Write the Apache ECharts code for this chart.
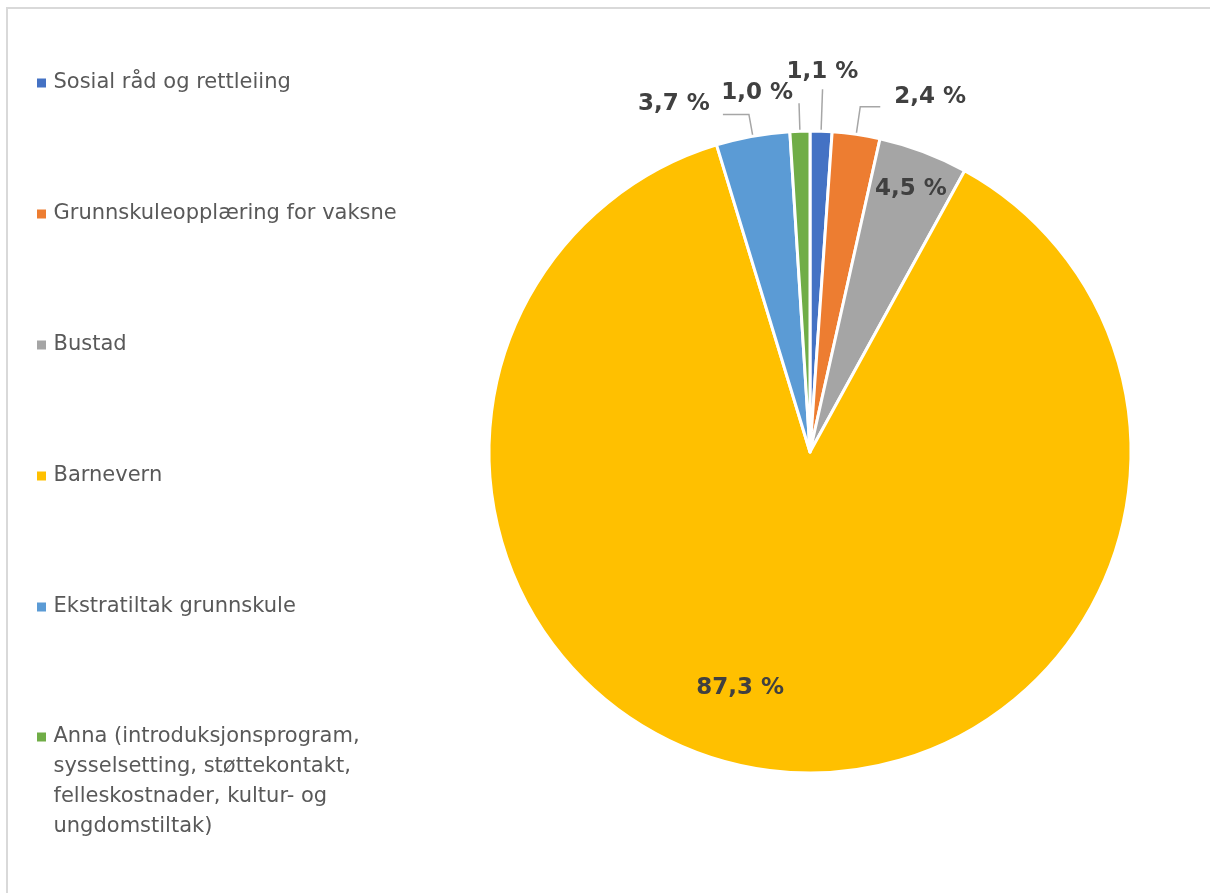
<!DOCTYPE html>
<html>
<head>
<meta charset="utf-8">
<script src="https://cdn.jsdelivr.net/npm/echarts@6/dist/echarts.min.js"></script>
<style>
html,body{margin:0;padding:0;background:#fff;overflow:hidden;}
#frame{position:absolute;left:6px;top:7px;width:1400px;height:1100px;border:2px solid #d9d9d9;box-sizing:border-box;}
#chart{position:absolute;left:0;top:0;width:1210px;height:893px;}
</style>
</head>
<body>
<div id="frame"></div>
<div id="chart"></div>
<script>
const categories = [
  'Sosial råd og rettleiing',
  'Grunnskuleopplæring for vaksne',
  'Bustad',
  'Barnevern',
  'Ekstratiltak grunnskule',
  'Anna (introduksjonsprogram, sysselsetting, støttekontakt, felleskostnader, kultur- og ungdomstiltak)'
];
const shares = [1.1, 2.4, 4.5, 87.3, 3.7, 1.0];
const colors = ['#4472C4', '#ED7D31', '#A5A5A5', '#FFC000', '#5B9BD5', '#70AD47'];
const insideLabel = [false, false, true, true, false, false];
const annaLegendText = 'Anna (introduksjonsprogram,\nsysselsetting, støttekontakt,\nfelleskostnader, kultur- og\nungdomstiltak)';

const FONT = 'DejaVu Sans';
const lineLen = { 0: [42, 0], 1: [28, 20], 4: [22, 26], 5: [28, 0] };
const labelOffsets = {
  0: [-41, -17],
  1: [9, -10],
  2: [43, -110],
  3: [-53, 73],
  4: [-8, -10],
  5: [-1, -10]
};

const chart = echarts.init(document.getElementById('chart'));
const legendText = { color: '#595959', fontSize: 21, fontFamily: FONT, lineHeight: 30 };
const legendCommon = {
  orient: 'vertical', left: 37, padding: 0,
  icon: 'path://M0,0H9V9H0Z', itemWidth: 14, itemHeight: 9,
  itemStyle: { borderWidth: 0 },
  textStyle: legendText, selectedMode: false
};
chart.setOption({
  color: colors,
  animation: false,
  legend: [
    Object.assign({}, legendCommon, {
      top: 68, itemGap: 101,
      data: categories.slice(0, 5)
    }),
    Object.assign({}, legendCommon, {
      top: 632,
      data: [categories[5]],
      formatter: () => '\n\n\n' + annaLegendText
    })
  ],
  series: [{
    type: 'pie',
    center: [810, 452],
    radius: 321,
    startAngle: 90,
    clockwise: true,
    avoidLabelOverlap: false,
    itemStyle: { borderColor: '#fff', borderWidth: 3 },
    label: {
      formatter: p => p.value.toFixed(1).replace('.', ',') + ' %',
      fontFamily: FONT, fontWeight: 'bold', fontSize: 23, color: '#404040'
    },
    labelLine: { length: 18, length2: 10, lineStyle: { color: '#A6A6A6', width: 1.5 } },
    labelLayout: p => {
      const o = labelOffsets[p.dataIndex];
      return { dx: o[0], dy: o[1] };
    },
    data: categories.map((c, i) => ({
      name: c,
      value: shares[i],
      label: { position: insideLabel[i] ? 'inside' : 'outside' },
      labelLine: insideLabel[i] ? { show: false } : { show: true, length: lineLen[i][0], length2: lineLen[i][1] }
    }))
  }]
});
</script>
</body>
</html>
